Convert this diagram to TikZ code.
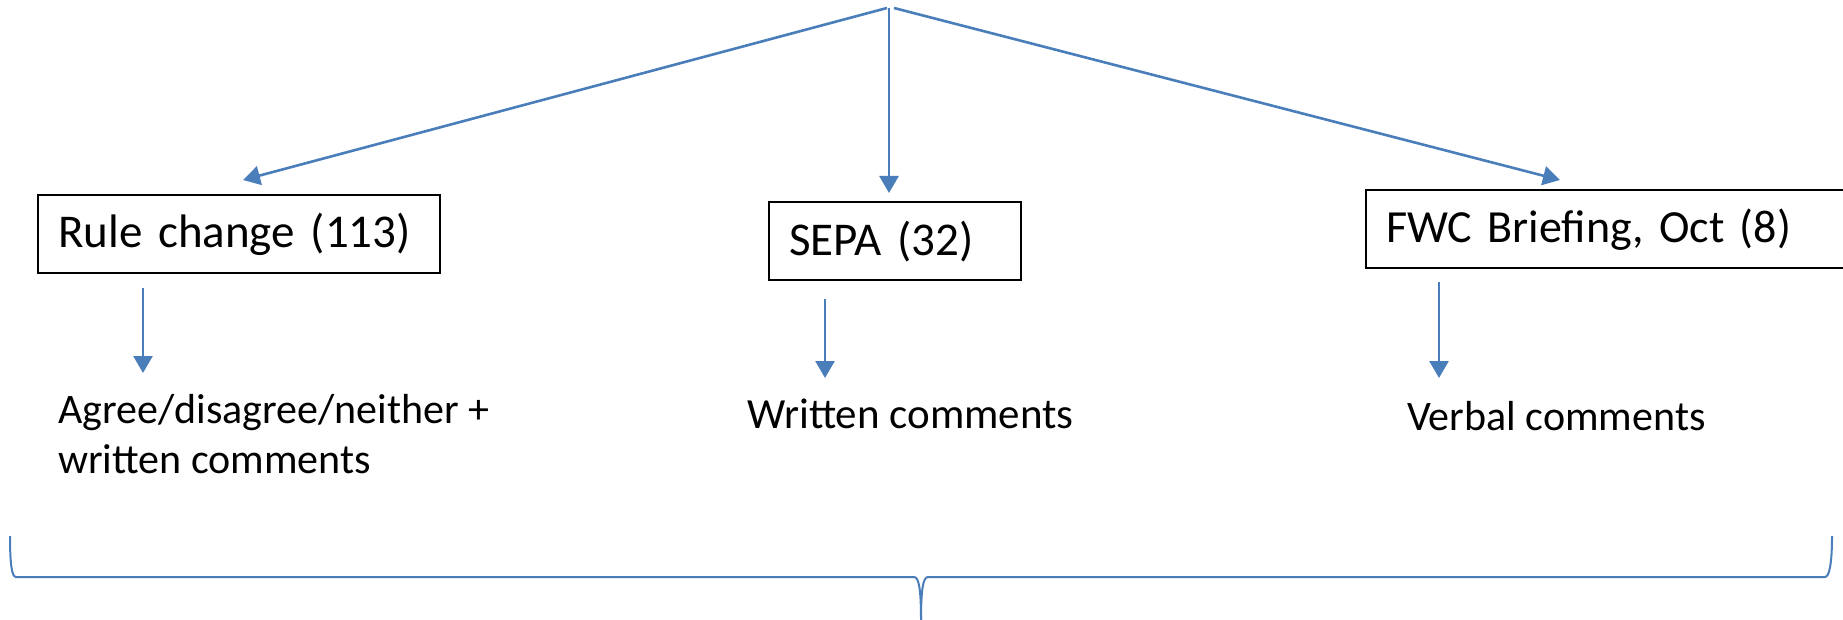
\documentclass[tikz,border=0pt]{standalone}
\usepackage{fontspec}
\setmainfont{Carlito}
\usetikzlibrary{arrows.meta}
\definecolor{blueline}{RGB}{74,126,187}
\tikzset{
  conn/.style={draw=blueline, line width=2.6pt, -{Triangle[width=19pt,length=17pt]}},
  boxnode/.style={draw=black, line width=2.4pt, anchor=north west, align=left,
    inner xsep=20pt, inner ysep=0pt, minimum height=78pt},
  txt/.style={anchor=base west, inner sep=0pt, align=left},
  bracestyle/.style={draw=blueline, line width=2pt}
}
\begin{document}
\begin{tikzpicture}[x=1pt,y=-1pt]
\useasboundingbox (0,0) rectangle (1843,620);
\clip (0,0) rectangle (1843,620);
\fill[white] (0,0) rectangle (1843,620);
% boxes
\node[boxnode, text width=362pt, font=\fontsize{47}{50}\selectfont] (rule) at (37,194) {Rule change (113)};
\node[boxnode, text width=212pt, font=\fontsize{47}{50}\selectfont] (sepa) at (768,201) {SEPA (32)};
\node[boxnode, text width=520pt, font=\fontsize{46}{50}\selectfont] (fwc) at (1365,189) {FWC Briefing, Oct (8)};
% texts
\node[txt, font=\fontsize{42}{50}\selectfont] (agree) at (58,473) {Agree/disagree/neither +\\written comments};
\node[txt, font=\fontsize{43}{50}\selectfont] (written) at (747,428) {Written comments};
\node[txt, font=\fontsize{42}{50}\selectfont] (verbal) at (1407,430) {Verbal comments};
% top connectors
\coordinate (apex) at (889,8);
\coordinate (ruleIn) at (243,180);
\coordinate (sepaIn) at (889,193);
\coordinate (fwcIn) at (1560,180);
\draw[conn] ([xshift=-2pt]apex) -- (ruleIn);
\draw[conn] (apex) -- (sepaIn);
\draw[conn] ([xshift=5pt]apex) -- (fwcIn);
% down connectors
\coordinate (ruleOut) at (143,288);
\coordinate (agreeIn) at (143,373);
\coordinate (sepaOut) at (825,299);
\coordinate (writtenIn) at (825,378);
\coordinate (fwcOut) at (1439,282);
\coordinate (verbalIn) at (1439,378);
\draw[conn] (ruleOut) -- (agreeIn);
\draw[conn] (sepaOut) -- (writtenIn);
\draw[conn] (fwcOut) -- (verbalIn);
% brace
\coordinate (bl) at (10,536);
\coordinate (blc) at (16,577);
\coordinate (bml) at (914,577);
\coordinate (btip) at (921,620);
\coordinate (bmr) at (928,577);
\coordinate (brc) at (1825,577);
\coordinate (br) at (1832,536);
\draw[bracestyle] (bl) .. controls (10,565) and (12,577) .. (blc) -- (bml)
  .. controls (919,577) and (921,590) .. (btip);
\draw[bracestyle] (br) .. controls (1832,565) and (1829,577) .. (brc) -- (bmr)
  .. controls (923,577) and (921,590) .. (btip);
\end{tikzpicture}
\end{document}
